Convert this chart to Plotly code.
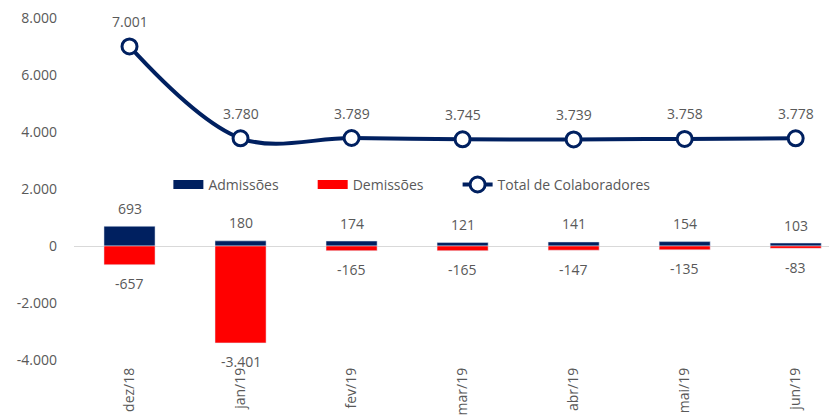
import plotly.graph_objects as go

categorias = ["dez/18", "jan/19", "fev/19", "mar/19", "abr/19", "mai/19", "jun/19"]
admissoes = [693, 180, 174, 121, 141, 154, 103]
demissoes = [-657, -3401, -165, -165, -147, -135, -83]
total = [7001, 3780, 3789, 3745, 3739, 3758, 3778]
y_ticks = [-4000, -2000, 0, 2000, 4000, 6000, 8000]


def fmt(v):
    return f"{v:,}".replace(",", ".")


NAVY = "#002060"
RED = "#FF0000"
GRAY = "#595959"
FONT = "Open Sans"
PAD = "\u00a0" * 8

x_idx = list(range(len(categorias)))

fig = go.Figure()
fig.add_trace(go.Bar(x=x_idx, y=admissoes, name="Admissões", marker_color=NAVY,
                     width=0.46, hoverinfo="skip", showlegend=False))
fig.add_trace(go.Bar(x=x_idx, y=demissoes, name="Demissões", marker_color=RED,
                     width=0.46, hoverinfo="skip", showlegend=False))
# legend-only entries drawn as wide rectangles
fig.add_trace(go.Scatter(x=[None], y=[None], name="Admissões" + PAD, mode="lines",
                         line=dict(color=NAVY, width=9)))
fig.add_trace(go.Scatter(x=[None], y=[None], name="Demissões" + PAD, mode="lines",
                         line=dict(color=RED, width=9)))
fig.add_trace(go.Scatter(x=x_idx, y=total, name="Total de Colaboradores",
                         mode="lines+markers",
                         line=dict(color=NAVY, width=4, shape="spline", smoothing=1),
                         marker=dict(size=15, color="white", line=dict(color=NAVY, width=3)),
                         hoverinfo="skip"))

ann = []
for i, v in enumerate(admissoes):
    ann.append(dict(x=i, y=v, text=fmt(v), showarrow=False, yshift=18,
                    font=dict(size=14, color=GRAY, family=FONT)))
for i, v in enumerate(demissoes):
    ann.append(dict(x=i, y=v, text=fmt(v), showarrow=False, yshift=-19,
                    font=dict(size=14, color=GRAY, family=FONT)))
for i, v in enumerate(total):
    ann.append(dict(x=i, y=v, text=fmt(v), showarrow=False, yshift=25,
                    font=dict(size=14, color=GRAY, family=FONT)))

fig.update_layout(
    width=829, height=419,
    margin=dict(l=74, r=0, t=18, b=59, autoexpand=False),
    barmode="relative",
    plot_bgcolor="white", paper_bgcolor="white",
    font=dict(family=FONT, size=14, color=GRAY),
    annotations=ann,
    legend=dict(orientation="h", x=0.125, y=0.512, yanchor="middle", xanchor="left",
                font=dict(size=14, color=GRAY, family=FONT), bgcolor="rgba(0,0,0,0)",
                traceorder="normal", itemwidth=30),
    xaxis=dict(tickmode="array", tickvals=x_idx, ticktext=categorias, tickangle=-90,
               range=[-0.5, 6.3], showgrid=False, zeroline=False, showline=False,
               automargin=False, ticks="", ticklabelstandoff=4),
    yaxis=dict(range=[-4000, 8000], tickmode="array", tickvals=y_ticks,
               ticktext=[fmt(v) for v in y_ticks], showgrid=False,
               zeroline=True, zerolinecolor="#D9D9D9", zerolinewidth=1,
               showline=False, automargin=False, ticks="", ticklabelstandoff=16),
)

fig.write_html("out.html")
